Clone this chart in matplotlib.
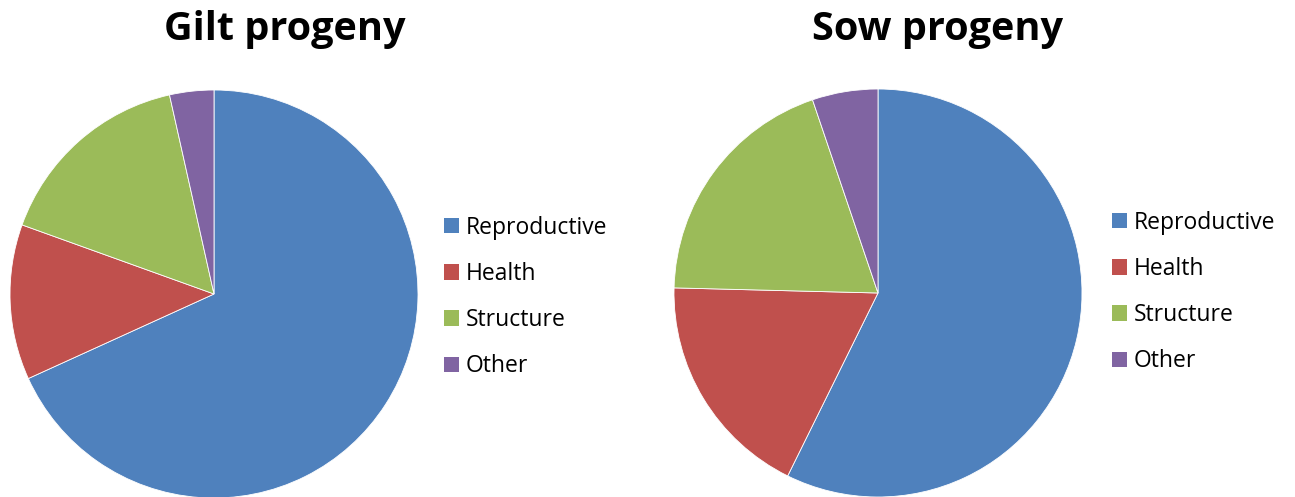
import matplotlib
matplotlib.use("Agg")
import matplotlib.pyplot as plt
from matplotlib.patches import Patch

plt.rcParams['font.family'] = ['Open Sans', 'DejaVu Sans']

# share of each trait group (%)
categories = ['Reproductive', 'Health', 'Structure', 'Other']
gilt_values = [68.2, 12.3, 16.0, 3.5]
sow_values = [57.3, 18.1, 19.4, 5.2]
colors = ['#4F81BD', '#C0504D', '#9BBB59', '#8064A2']

W, H = 1295, 497
fig = plt.figure(figsize=(W / 100, H / 100), dpi=100)

def px_axes(cx, cy, r):
    # axes square around a pie centre given in pixels from the top left
    return fig.add_axes([(cx - r) / W, (H - cy - r) / H, 2 * r / W, 2 * r / H])

def draw_pie(ax, values):
    ax.pie(values, colors=colors, startangle=90, counterclock=False, radius=1,
           wedgeprops=dict(edgecolor='white', linewidth=0.6))
    ax.set_xlim(-1, 1)
    ax.set_ylim(-1, 1)
    ax.set_aspect('equal')
    ax.axis('off')

ax1 = px_axes(214, 294, 204)
draw_pie(ax1, gilt_values)
ax2 = px_axes(878, 293, 204)
draw_pie(ax2, sow_values)

fig.text(285 / W, 1 - 40 / H, 'Gilt progeny', ha='center', va='baseline',
         fontsize=28.5, fontweight='bold')
fig.text(938 / W, 1 - 40 / H, 'Sow progeny', ha='center', va='baseline',
         fontsize=28.5, fontweight='bold')

handles = [Patch(facecolor=c, edgecolor='none') for c in colors]
for x, y in [(444, 297), (1112, 292)]:
    fig.legend(handles, categories, loc='center left',
               bbox_to_anchor=(x / W, 1 - y / H), frameon=False,
               fontsize=16.5, handlelength=0.66, handleheight=0.66,
               handletextpad=0.3, labelspacing=0.97, borderpad=0,
               borderaxespad=0)

fig.savefig('out.png', dpi=100)
